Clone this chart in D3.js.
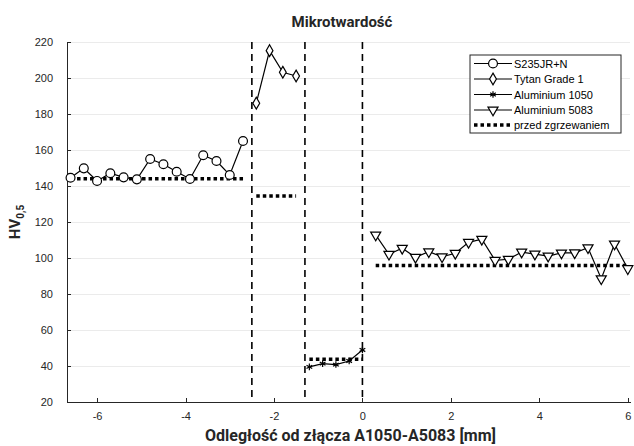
<!DOCTYPE html>
<meta charset="utf-8">
<style>
    body { margin: 0; background: #fff; }
    .axis path, .axis line { fill: none; stroke: #262626; shape-rendering: crispEdges; }
    .axis text { font-family: "Liberation Sans", Arial, sans-serif; font-size: 11px; fill: #262626; }
    .grid line { stroke: #ebebeb; shape-rendering: crispEdges; }
    .legend text { font-family: "Liberation Sans", Arial, sans-serif; font-size: 11px; fill: #000; }
    .lbl { font-family: Roboto, sans-serif; font-weight: bold; fill: #262626; }
</style>
<body>
<div id="chart"></div>
<script src="https://cdn.jsdelivr.net/npm/d3@7"></script>
<script>
// values
var xSteel = [-6.6, -6.3, -6.0, -5.7, -5.4, -5.1, -4.8, -4.5, -4.2, -3.9, -3.6, -3.3, -3.0, -2.7];
var ySteel = [144.6, 149.8, 142.8, 147.1, 144.8, 143.7, 155, 152.1, 147.9, 143.9, 157.1, 153.9, 146.1, 165];
var xTi = [-2.4, -2.1, -1.8, -1.5];
var yTi = [186, 215.2, 203.2, 201.1];
var xAl1050 = [-1.2, -0.9, -0.6, -0.3, 0];
var yAl1050 = [39.5, 41.3, 40.8, 42.8, 48.9];
var xAl5083 = [0.3, 0.6, 0.9, 1.2, 1.5, 1.8, 2.1, 2.4, 2.7, 3.0, 3.3, 3.6, 3.9, 4.2, 4.5, 4.8, 5.1, 5.4, 5.7, 6.0];
var yAl5083 = [112.8, 102.1, 105.4, 100.4, 103.5, 100.7, 102.6, 108.7, 110.4, 98.7, 99.3, 103.3, 102.2, 101.1, 102.8, 102.9, 105.7, 88.5, 107.8, 94.1];

// reference level before welding: [x start, x end, value]
var before = [[-6.6, -2.7, 144], [-2.4, -1.5, 134.5], [-1.2, 0, 43.8], [0.3, 6.0, 95.8]];
var boundaries = [-2.5, -1.3, 0];

var seriesNames = ["S235JR+N", "Tytan Grade 1", "Aluminium 1050", "Aluminium 5083"];
var beforeName = "przed zgrzewaniem";

var xTicks = [-6, -4, -2, 0, 2, 4, 6];
var yTicks = [20, 40, 60, 80, 100, 120, 140, 160, 180, 200, 220];

var W = 634, H = 446;
var margin = { top: 42, right: 4, bottom: 44, left: 67 };
var width = W - margin.left - margin.right,
    height = H - margin.top - margin.bottom;

var x = d3.scaleLinear().domain([-6.68, 6.05]).range([0, width]);
var y = d3.scaleLinear().domain([20, 220]).range([height, 0]);

var svg = d3.select("#chart").append("svg")
    .attr("width", W).attr("height", H)
    .append("g")
    .attr("transform", "translate(" + margin.left + "," + margin.top + ")");

// horizontal grid
svg.append("g").attr("class", "grid")
    .selectAll("line").data(yTicks).enter().append("line")
    .attr("x1", 0).attr("x2", width)
    .attr("y1", function (d) { return y(d); }).attr("y2", function (d) { return y(d); });

// axes, ticks pointing inward
svg.append("g").attr("class", "x axis")
    .attr("transform", "translate(0," + height + ")")
    .call(d3.axisBottom(x).tickValues(xTicks).tickSizeInner(-4).tickSizeOuter(0).tickPadding(10))
    .call(function (g) { g.selectAll("text").text(function (d) { return d < 0 ? "-" + Math.abs(d) : d; }); });

svg.append("g").attr("class", "y axis")
    .call(d3.axisLeft(y).tickValues(yTicks).tickSizeInner(-4).tickSizeOuter(0).tickPadding(14));

// zone boundaries
svg.selectAll(".bound").data(boundaries).enter().append("line")
    .attr("class", "bound")
    .attr("x1", function (d) { return x(d); }).attr("x2", function (d) { return x(d); })
    .attr("y1", 0).attr("y2", height)
    .attr("stroke", "#000").attr("stroke-width", 1.6)
    .attr("stroke-dasharray", "7,5");

// dotted levels
svg.selectAll(".before").data(before).enter().append("line")
    .attr("class", "before")
    .attr("x1", function (d) { return x(d[0]); }).attr("x2", function (d) { return x(d[1]); })
    .attr("y1", function (d) { return y(d[2]); }).attr("y2", function (d) { return y(d[2]); })
    .attr("stroke", "#000").attr("stroke-width", 3.5)
    .attr("stroke-dasharray", "3.5,3");

var line = d3.line()
    .x(function (d) { return x(d[0]); })
    .y(function (d) { return y(d[1]); });

var symbols = [
    d3.symbol().type(d3.symbolCircle).size(62),
    d3.symbol().type(d3.symbolDiamond).size(40),
    d3.symbol().type(d3.symbolAsterisk).size(30),
    d3.symbol().type(d3.symbolTriangle).size(44)
];
var rotations = [0, 0, 0, 180];
var xs = [xSteel, xTi, xAl1050, xAl5083];
var ys = [ySteel, yTi, yAl1050, yAl5083];

xs.forEach(function (xv, i) {
    var pts = xv.map(function (v, j) { return [v, ys[i][j]]; });
    svg.append("path").datum(pts)
        .attr("fill", "none").attr("stroke", "#000").attr("stroke-width", 1.2)
        .attr("d", line);
    svg.selectAll(".m" + i).data(pts).enter().append("path")
        .attr("class", "m" + i)
        .attr("d", symbols[i])
        .attr("transform", function (d) {
            return "translate(" + x(d[0]) + "," + y(d[1]) + ") rotate(" + rotations[i] + ")";
        })
        .attr("fill", i == 2 ? "#000" : "#fff")
        .attr("stroke", "#000").attr("stroke-width", 1.2);
});

// legend
var lg = svg.append("g").attr("class", "legend")
    .attr("transform", "translate(" + (470 - margin.left) + "," + (55 - margin.top) + ")");
lg.append("rect").attr("width", 151).attr("height", 78)
    .attr("fill", "#fff").attr("stroke", "#262626").attr("stroke-width", 1);

seriesNames.forEach(function (name, i) {
    var ly = 8.5 + i * 15.5;
    lg.append("line").attr("x1", 4).attr("x2", 42).attr("y1", ly).attr("y2", ly)
        .attr("stroke", "#000").attr("stroke-width", 1.2);
    lg.append("path").attr("d", symbols[i])
        .attr("transform", "translate(23," + ly + ") rotate(" + rotations[i] + ")")
        .attr("fill", i == 2 ? "#000" : "#fff").attr("stroke", "#000").attr("stroke-width", 1.2);
    lg.append("text").attr("x", 44).attr("y", ly + 4).text(name);
});
lg.append("line").attr("x1", 4).attr("x2", 41).attr("y1", 70).attr("y2", 70)
    .attr("stroke", "#000").attr("stroke-width", 3.5).attr("stroke-dasharray", "3.5,3");
lg.append("text").attr("x", 44).attr("y", 74).text(beforeName);

// titles
svg.append("text").attr("class", "lbl")
    .attr("x", 275).attr("y", -15)
    .attr("text-anchor", "middle").style("font-size", "15px")
    .text("Mikrotwardość");

svg.append("text").attr("class", "lbl")
    .attr("x", width / 2 + 2).attr("y", height + 39)
    .attr("text-anchor", "middle").style("font-size", "16px")
    .text("Odległość od złącza A1050-A5083 [mm]");

var yl = svg.append("text").attr("class", "lbl")
    .attr("transform", "translate(-47," + (height / 2) + ") rotate(-90)")
    .attr("text-anchor", "middle").style("font-size", "15px");
yl.append("tspan").text("HV");
yl.append("tspan").attr("dy", 4).style("font-size", "10px").text("0,5");
</script>
</body>
